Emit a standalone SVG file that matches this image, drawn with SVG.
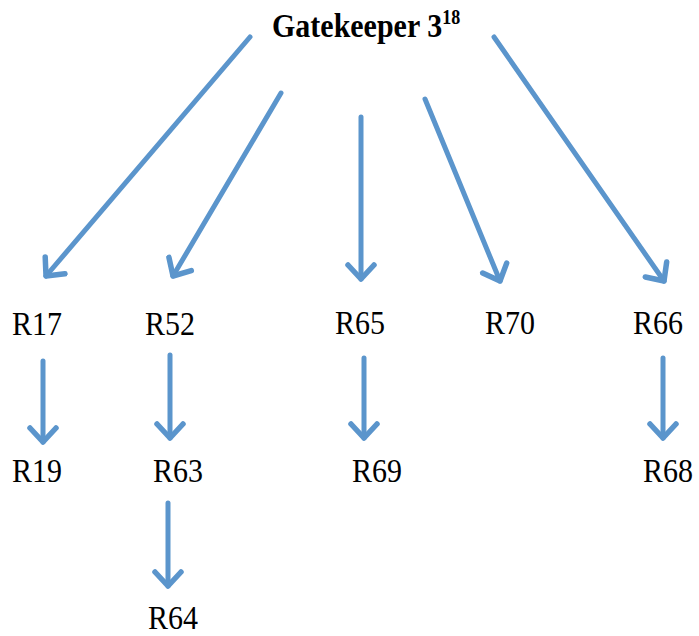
<svg xmlns="http://www.w3.org/2000/svg" width="699" height="636" viewBox="0 0 699 636">
  <style>
    .lbl { font-family: "Liberation Serif", "Times New Roman", serif; font-size: 30px; fill: #000; }
    .title { font-weight: bold; }
    .arr { stroke: #5b95cc; stroke-width: 5; fill: none; stroke-linecap: round; marker-end: url(#head); }
  </style>
  <defs>
    <marker id="head" markerUnits="userSpaceOnUse" viewBox="-20 -16 24 32" markerWidth="24" markerHeight="32" refX="0" refY="0" orient="auto">
      <path d="M-14,-13 L0,0 L-14,13" fill="none" stroke="#5b95cc" stroke-width="5.5" stroke-linecap="round" stroke-linejoin="round"/>
    </marker>
  </defs>
  <rect width="699" height="636" fill="#fff"/>

  <g id="connectors">
    <line class="arr" x1="250" y1="37" x2="46" y2="276"/>
    <line class="arr" x1="281" y1="93" x2="173" y2="276"/>
    <line class="arr" x1="361" y1="117" x2="361" y2="279"/>
    <line class="arr" x1="425" y1="99" x2="500" y2="281"/>
    <line class="arr" x1="494" y1="37" x2="664" y2="281"/>
    <line class="arr" x1="43" y1="361" x2="43" y2="442"/>
    <line class="arr" x1="170" y1="355" x2="170" y2="438"/>
    <line class="arr" x1="364" y1="358" x2="364" y2="438"/>
    <line class="arr" x1="663" y1="358" x2="663" y2="438"/>
    <line class="arr" x1="168" y1="503" x2="168" y2="586"/>
  </g>

  <g id="gatekeeper">
    <text class="lbl title" transform="translate(272,37) scale(1,1.12)">Gatekeeper 3<tspan font-size="18" dy="-12">18</tspan></text>
  </g>
  <g id="R17"><text class="lbl" transform="translate(12,335) scale(1,1.15)">R17</text></g>
  <g id="R52"><text class="lbl" transform="translate(145,335) scale(1,1.15)">R52</text></g>
  <g id="R65"><text class="lbl" transform="translate(335,334) scale(1,1.15)">R65</text></g>
  <g id="R70"><text class="lbl" transform="translate(485,334) scale(1,1.15)">R70</text></g>
  <g id="R66"><text class="lbl" transform="translate(633,334) scale(1,1.15)">R66</text></g>
  <g id="R19"><text class="lbl" transform="translate(12,482) scale(1,1.15)">R19</text></g>
  <g id="R63"><text class="lbl" transform="translate(153,482) scale(1,1.15)">R63</text></g>
  <g id="R69"><text class="lbl" transform="translate(352,482) scale(1,1.15)">R69</text></g>
  <g id="R68"><text class="lbl" transform="translate(643,482) scale(1,1.15)">R68</text></g>
  <g id="R64"><text class="lbl" transform="translate(148,629) scale(1,1.15)">R64</text></g>
</svg>
